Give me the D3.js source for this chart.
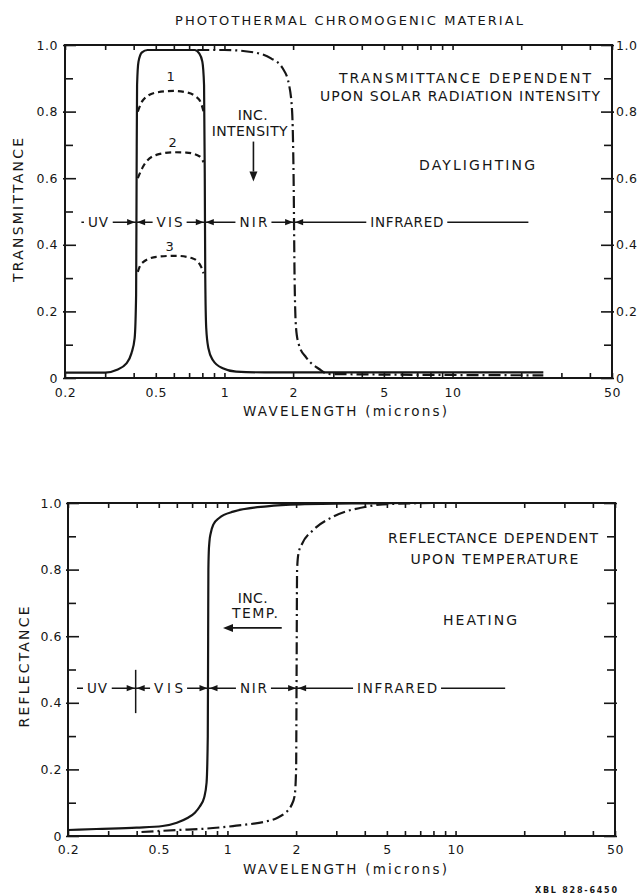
<!DOCTYPE html>
<html><head><meta charset="utf-8">
<script src="https://cdn.jsdelivr.net/npm/d3@7"></script>
<style>
body{margin:0;background:#fff}
svg text{font-family:"DejaVu Sans",sans-serif;fill:#161616}
</style>
</head><body>
<svg id="c" width="641" height="895"></svg>
<script>
// ---------- data ----------
const xDomain = [0.2, 50];
const xMajorTicks = [0.2, 0.5, 1, 2, 5, 10, 50];
const xTickLabels = ["0.2", "0.5", "1", "2", "5", "10", "50"];
const xMinorTicks = [0.3, 0.4, 0.6, 0.7, 0.8, 0.9, 3, 4, 6, 7, 8, 9, 20, 30, 40];
const yMajorTicks = [0, 0.2, 0.4, 0.6, 0.8, 1.0];
const yTickLabels = ["0", "0.2", "0.4", "0.6", "0.8", "1.0"];
const yMinorTicks = [0.1, 0.3, 0.5, 0.7, 0.9];

// Transmittance panel (wavelength µm, transmittance)
const transSolid = [[0.2,0.016],[0.3,0.016],[0.336,0.024],[0.372,0.044],[0.391,0.074],[0.404,0.12],[0.41,0.25],[0.412,0.6],[0.414,0.88],[0.42,0.95],[0.435,0.978],[0.46,0.985],[0.74,0.985],[0.775,0.975],[0.8,0.95],[0.814,0.88],[0.82,0.6],[0.824,0.3],[0.832,0.15],[0.85,0.09],[0.889,0.054],[0.983,0.029],[1.125,0.019],[1.5,0.017],[25,0.017]];
const transDashDot = [[0.76,0.985],[1.0,0.985],[1.34,0.978],[1.6,0.96],[1.8,0.93],[1.92,0.88],[1.98,0.8],[2.01,0.6],[2.03,0.3],[2.06,0.15],[2.12,0.1],[2.28,0.062],[2.6,0.027],[2.85,0.012],[25,0.008]];
const transDashed1 = [[0.417,0.80],[0.44,0.835],[0.5,0.857],[0.6,0.862],[0.68,0.858],[0.75,0.845],[0.79,0.825],[0.81,0.80]];
const transDashed2 = [[0.417,0.60],[0.44,0.635],[0.503,0.67],[0.6,0.678],[0.68,0.677],[0.78,0.665],[0.81,0.648]];
const transDashed3 = [[0.417,0.319],[0.433,0.344],[0.503,0.364],[0.615,0.367],[0.727,0.359],[0.79,0.334],[0.81,0.314]];
const dashedLabels = ["1", "2", "3"];
const dashedLabelAt = [[0.581,0.904],[0.593,0.706],[0.575,0.394]];

// Reflectance panel (wavelength µm, reflectance)
const reflSolid = [[0.2,0.018],[0.266,0.021],[0.4,0.025],[0.52,0.03],[0.6,0.04],[0.668,0.054],[0.72,0.07],[0.755,0.088],[0.79,0.115],[0.81,0.16],[0.82,0.3],[0.823,0.6],[0.825,0.8],[0.828,0.85],[0.834,0.885],[0.845,0.91],[0.867,0.935],[0.92,0.955],[1.06,0.974],[1.49,0.99],[2.08,0.996],[4,0.999],[6,1.0]];
const reflDashDot = [[0.42,0.012],[0.6,0.018],[0.8,0.022],[1.0,0.028],[1.2,0.034],[1.46,0.043],[1.65,0.054],[1.79,0.069],[1.9,0.09],[1.97,0.12],[2.0,0.2],[2.01,0.5],[2.02,0.8],[2.05,0.85],[2.12,0.876],[2.38,0.919],[2.91,0.959],[4.07,0.989],[4.8,0.996],[8,1.0]];

// spectral bands
const bandNames = ["UV", "VIS", "NIR", "INFRARED"];
const transBandEdges = [0.41, 0.82, 2.02];
const transBandLevel = 0.468;
const transBandSpan = [0.236, 21.5];
const transBandLabelAt = [0.279, 0.575, 1.34, 6.3];
const reflBandEdges = [0.396, 0.826, 2.02];
const reflBandLevel = 0.444;
const reflBandSpan = [0.219, 16.5];
const reflBandLabelAt = [0.268, 0.552, 1.30, 5.54];

// annotations (text, wavelength, value)
const transNotes = [["TRANSMITTANCE DEPENDENT", 11.34, 0.90], ["UPON SOLAR RADIATION INTENSITY", 10.78, 0.847], ["DAYLIGHTING", 12.8, 0.64], ["INC.", 1.33, 0.79], ["INTENSITY", 1.29, 0.742]];
const transArrow = [[1.34, 0.71], [1.34, 0.59]];
const reflNotes = [["REFLECTANCE DEPENDENT", 14.6, 0.895], ["UPON TEMPERATURE", 14.8, 0.832], ["HEATING", 12.8, 0.649], ["INC.", 1.29, 0.715], ["TEMP.", 1.32, 0.67]];
const reflArrow = [[1.73, 0.625], [0.956, 0.625]];

// ---------- drawing ----------
const ink = "#161616";
const svg = d3.select("#c");
svg.append("rect").attr("width", 641).attr("height", 895).attr("fill", "#fff");

function txt(parent, s, x, y, size, len, opts = {}) {
  const t = parent.append("text")
    .attr("x", x).attr("y", y)
    .attr("font-size", size)
    .attr("text-anchor", opts.anchor || "middle")
    .attr("dominant-baseline", "central")
    .text(s);
  if (opts.weight) t.attr("font-weight", opts.weight);
  if (len) t.attr("textLength", len).attr("lengthAdjust", "spacing");
  if (opts.rotate) t.attr("transform", `rotate(${opts.rotate},${x},${y})`);
  return t;
}

function drawPanel(p) {
  const x = d3.scaleLog().domain(xDomain).range([p.left, p.right]);
  const y = d3.scaleLinear().domain([0, 1]).range([p.bottom, p.top]);
  const g = svg.append("g");

  const tickStyle = s => {
    s.select(".domain").remove();
    s.selectAll("line").attr("stroke", ink).attr("stroke-width", 1.6);
  };
  const allX = xMajorTicks.concat(xMinorTicks);
  g.append("g").attr("transform", `translate(0,${p.bottom})`)
    .call(d3.axisBottom(x).tickValues(allX).tickSize(-5).tickFormat("")).call(tickStyle);
  g.append("g").attr("transform", `translate(0,${p.top})`)
    .call(d3.axisTop(x).tickValues(allX).tickSize(-5).tickFormat("")).call(tickStyle);

  g.append("g").attr("transform", `translate(${p.left},0)`)
    .call(d3.axisLeft(y).tickValues(yMajorTicks).tickSizeInner(-11).tickSizeOuter(0).tickFormat("")).call(tickStyle);
  g.append("g").attr("transform", `translate(${p.left},0)`)
    .call(d3.axisLeft(y).tickValues(yMajorTicks).tickSizeInner(2).tickSizeOuter(0).tickFormat("")).call(tickStyle);
  g.append("g").attr("transform", `translate(${p.left},0)`)
    .call(d3.axisLeft(y).tickValues(yMinorTicks).tickSizeInner(-8).tickSizeOuter(0).tickFormat("")).call(tickStyle);
  g.append("g").attr("transform", `translate(${p.right},0)`)
    .call(d3.axisRight(y).tickValues(yMajorTicks).tickSizeInner(-11).tickSizeOuter(0).tickFormat("")).call(tickStyle);
  g.append("g").attr("transform", `translate(${p.right},0)`)
    .call(d3.axisRight(y).tickValues(yMajorTicks).tickSizeInner(2).tickSizeOuter(0).tickFormat("")).call(tickStyle);
  g.append("g").attr("transform", `translate(${p.right},0)`)
    .call(d3.axisRight(y).tickValues(yMinorTicks).tickSizeInner(-8).tickSizeOuter(0).tickFormat("")).call(tickStyle);

  g.append("rect").attr("x", p.left).attr("y", p.top)
    .attr("width", p.right - p.left).attr("height", p.bottom - p.top)
    .attr("fill", "none").attr("stroke", ink).attr("stroke-width", 2);

  const labelStyle = s => {
    s.select(".domain").remove();
    s.selectAll("line").remove();
    s.attr("font-family", null).attr("font-size", null);
    s.selectAll("text").attr("font-size", 12.5).attr("fill", ink).attr("letter-spacing", 0.5);
  };
  g.append("g").attr("transform", `translate(0,${p.bottom})`)
    .call(d3.axisBottom(x).tickValues(xMajorTicks).tickSize(0).tickPadding(p.xPad)
      .tickFormat((d, i) => xTickLabels[i])).call(labelStyle);
  g.append("g").attr("transform", `translate(${p.left},0)`)
    .call(d3.axisLeft(y).tickValues(yMajorTicks).tickSize(0).tickPadding(p.yPad)
      .tickFormat((d, i) => yTickLabels[i])).call(labelStyle);
  if (p.rightLabels) {
    g.append("g").attr("transform", `translate(${p.right},0)`)
      .call(d3.axisRight(y).tickValues(yMajorTicks).tickSize(0).tickPadding(4)
        .tickFormat((d, i) => yTickLabels[i])).call(labelStyle);
  }

  txt(g, p.yTitle, p.yTitleX, (p.top + p.bottom) / 2 + p.yTitleShift, 14, p.yTitleLen, { rotate: -90 });
  txt(g, "WAVELENGTH (microns)", 345, p.bottom + 33, 13.5, 204);

  const line = d3.line().x(d => x(d[0])).y(d => y(d[1])).curve(d3.curveMonotoneX);
  p.curves.forEach(c => {
    g.append("path").datum(c.data).attr("d", line)
      .attr("fill", "none").attr("stroke", ink)
      .attr("stroke-width", c.w || 2.2)
      .attr("stroke-linejoin", "round")
      .attr("stroke-dasharray", c.dash || null);
  });

  const by = y(p.bandLevel);
  const bg = g.append("g");
  bg.append("line").attr("x1", x(p.bandSpan[0])).attr("x2", x(p.bandSpan[1]))
    .attr("y1", by).attr("y2", by).attr("stroke", ink).attr("stroke-width", 1.5);
  p.bandEdges.forEach((e, i) => {
    const bx = x(e);
    bg.append("path").attr("d", `M${bx - 1},${by} L${bx - 9},${by - 3.2} L${bx - 9},${by + 3.2} Z`).attr("fill", ink);
    bg.append("path").attr("d", `M${bx + 1},${by} L${bx + 9},${by - 3.2} L${bx + 9},${by + 3.2} Z`).attr("fill", ink);
    if (p.edgeTick && i === 0) {
      bg.append("line").attr("x1", bx).attr("x2", bx)
        .attr("y1", y(p.bandLevel + 0.055)).attr("y2", y(p.bandLevel - 0.075))
        .attr("stroke", ink).attr("stroke-width", 1.5);
    }
  });
  bandNames.forEach((n, i) => {
    const t = txt(bg, n, x(p.bandLabelAt[i]), by, 13.5, p.bandLens[i]);
    const b = t.node().getBBox();
    bg.insert("rect", "text").attr("x", b.x - 4).attr("y", by - 2).attr("width", b.width + 8).attr("height", 4).attr("fill", "#fff");
  });

  p.notes.forEach((n, i) => txt(g, n[0], x(n[1]), y(n[2]), 14, p.noteLens[i]));
  const a0 = p.arrow[0], a1 = p.arrow[1];
  const ax0 = x(a0[0]), ay0 = y(a0[1]), ax1 = x(a1[0]), ay1 = y(a1[1]);
  const ang = Math.atan2(ay1 - ay0, ax1 - ax0);
  const L = 10, Wd = 4;
  const hx = ax1 - L * Math.cos(ang), hy = ay1 - L * Math.sin(ang);
  g.append("line").attr("x1", ax0).attr("y1", ay0).attr("x2", hx).attr("y2", hy).attr("stroke", ink).attr("stroke-width", 1.6);
  g.append("path").attr("d", `M${ax1},${ay1} L${hx - Wd * Math.sin(ang)},${hy + Wd * Math.cos(ang)} L${hx + Wd * Math.sin(ang)},${hy - Wd * Math.cos(ang)} Z`).attr("fill", ink);

  return { x, y, g };
}

const transPanel = drawPanel({
  left: 65, right: 612, top: 45, bottom: 378, xPad: 10.5, yPad: 7, rightLabels: true,
  yTitle: "TRANSMITTANCE", yTitleX: 17.5, yTitleShift: -1.5, yTitleLen: 144,
  curves: [
    { data: transSolid },
    { data: transDashDot, dash: "12,4,2,4" },
    { data: transDashed1, dash: "6,4" },
    { data: transDashed2, dash: "6,4" },
    { data: transDashed3, dash: "6,4" }
  ],
  bandLevel: transBandLevel, bandSpan: transBandSpan, bandEdges: transBandEdges,
  bandLabelAt: transBandLabelAt, bandLens: [20, 26, 28, 73],
  notes: transNotes, noteLens: [252, 280, 116, 30, 76], arrow: transArrow
});
dashedLabels.forEach((s, i) => txt(transPanel.g, s, transPanel.x(dashedLabelAt[i][0]), transPanel.y(dashedLabelAt[i][1]), 13));

const reflPanel = drawPanel({
  left: 68, right: 615, top: 503, bottom: 836, xPad: 9.5, yPad: 6, rightLabels: false,
  yTitle: "REFLECTANCE", yTitleX: 24, yTitleShift: -2.5, yTitleLen: 121,
  curves: [
    { data: reflSolid },
    { data: reflDashDot, dash: "12,4,2,4" }
  ],
  bandLevel: reflBandLevel, bandSpan: reflBandSpan, bandEdges: reflBandEdges,
  bandLabelAt: reflBandLabelAt, bandLens: [20, 29, 27, 80], edgeTick: true,
  notes: reflNotes, noteLens: [210, 168, 74, 30, 46], arrow: reflArrow
});

txt(svg, "PHOTOTHERMAL CHROMOGENIC MATERIAL", 349, 20, 13, 348);
txt(svg, "XBL 828-6450", 576, 890, 8, 82, { weight: "bold" });
</script>
</body></html>
